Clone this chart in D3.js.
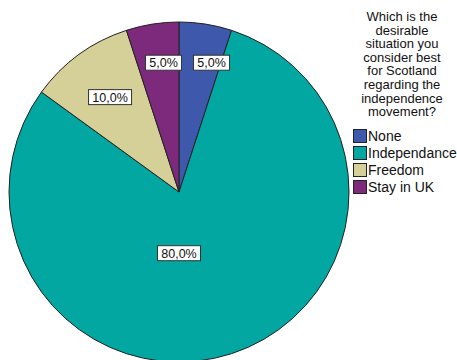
<html>
<script src="https://d3js.org/d3.v7.min.js"></script>
<style>
    body { margin: 0; background: #fff; }
    svg { font-family: "Liberation Sans", Arial, sans-serif; }
</style>
<svg width=457 height=360></svg>
<script>

    let categories = ['None', 'Independance', 'Freedom', 'Stay in UK'];
    let values = [5, 80, 10, 5];
    let colors = ['#3e58ac', '#02a7a2', '#d5cf98', '#7d2a7c'];
    let titleLines = ['Which is the', 'desirable', 'situation you', 'consider best',
        'for Scotland', 'regarding the', 'independence', 'movement?'];

    let svg = d3.select('svg');
    let cx = 179, cy = 192, R = 170;

    let pie = d3.pie().sort(null).value(d => d.value);
    let data = pie(categories.map((c, i) => ({ name: c, value: values[i], color: colors[i] })));

    let arc = d3.arc().innerRadius(0).outerRadius(R);

    let g = svg.append('g').attr('transform', 'translate(' + cx + ',' + cy + ')');

    g.selectAll('.slice')
        .data(data)
      .enter()
        .append('path')
        .attr('d', arc)
        .attr('fill', d => d.data.color)
        .attr('stroke', '#222')
        .attr('stroke-width', 1);

    let fmt = v => d3.format('.1f')(v).replace('.', ',') + '%';
    let labelR = d => d.data.value >= 50 ? 0.36 * R : d.data.value >= 10 ? 0.69 * R : 0.77 * R;
    let boxW = d => d.data.value >= 10 ? 43 : 36;

    data.forEach(d => {
        // a slice that covers the bottom gets its label straight under the centre
        let a = (d.startAngle < Math.PI && d.endAngle > Math.PI) ? Math.PI : (d.startAngle + d.endAngle) / 2;
        d.lx = Math.sin(a) * labelR(d);
        d.ly = -Math.cos(a) * labelR(d);
    });

    // push overlapping label boxes apart sideways
    data.forEach(p => data.forEach(q => {
        if (p === q || p.lx > q.lx) return;
        if (Math.abs(p.ly - q.ly) < 16) {
            let minGap = boxW(p) / 2 + boxW(q) / 2 + 12;
            if (q.lx - p.lx < minGap) {
                p.lx += 5;
                q.lx = p.lx + minGap;
            }
        }
    }));

    let labels = g.selectAll('.lab')
        .data(data)
      .enter()
        .append('g')
        .attr('transform', d => 'translate(' + d.lx + ',' + d.ly + ')');

    labels.append('rect')
        .attr('x', d => -boxW(d) / 2)
        .attr('y', -7.5)
        .attr('width', boxW)
        .attr('height', 15)
        .attr('fill', '#fff')
        .attr('stroke', '#333')
        .attr('stroke-width', 1);

    labels.append('text')
        .attr('text-anchor', 'middle')
        .attr('y', 4.5)
        .attr('font-size', 12.5)
        .attr('fill', '#111')
        .text(d => fmt(d.data.value));

    // legend
    let leg = svg.append('g');
    leg.selectAll('.title')
        .data(titleLines)
      .enter()
        .append('text')
        .attr('x', 402)
        .attr('y', (d, i) => 21 + i * 13.6)
        .attr('text-anchor', 'middle')
        .attr('font-size', 13)
        .attr('fill', '#111')
        .text(d => d);

    let items = leg.selectAll('.item')
        .data(data)
      .enter()
        .append('g')
        .attr('transform', (d, i) => 'translate(353,' + (129 + i * 17) + ')');

    items.append('rect')
        .attr('x', 0.5).attr('y', 0.5)
        .attr('width', 13).attr('height', 13)
        .attr('fill', d => d.data.color)
        .attr('stroke', '#222');

    items.append('text')
        .attr('x', 15)
        .attr('y', 12)
        .attr('font-size', 14)
        .attr('fill', '#111')
        .text(d => d.data.name);

</script>
</html>
